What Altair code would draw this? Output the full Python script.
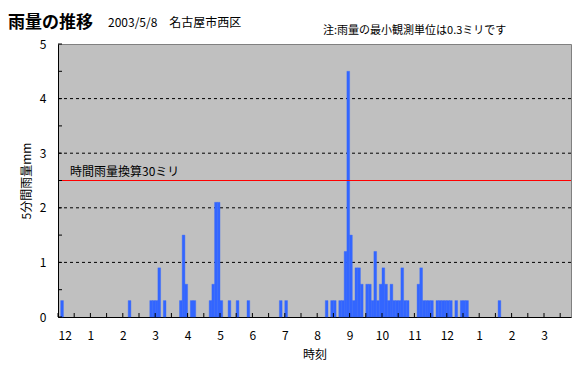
import altair as alt
import pandas as pd

# 5-minute slot index (minutes from midnight = slot * 5) and rainfall (mm)
SLOTS = [1, 26, 34, 35, 36, 37, 39, 45, 46, 47, 49, 50, 56, 57, 58, 59, 60, 63, 66, 70, 82, 84,
         99, 101, 102, 104, 105, 106, 107, 108, 109, 110, 111, 112, 114, 115, 116, 117, 118,
         119, 120, 121, 122, 123, 124, 125, 126, 127, 128, 129, 133, 134, 135, 136, 137, 138,
         140, 141, 142, 143, 144, 145, 147, 149, 150, 151, 163]
RAIN = [0.3, 0.3, 0.3, 0.3, 0.3, 0.9, 0.3, 0.3, 1.5, 0.6, 0.3, 0.3, 0.3, 0.6, 2.1, 2.1, 0.3, 0.3, 0.3, 0.3, 0.3, 0.3,
        0.3, 0.3, 0.3, 0.3, 0.3, 1.2, 4.5, 1.5, 0.3, 0.9, 0.9, 0.6, 0.6, 0.6, 0.3, 1.2, 0.3,
        0.6, 0.9, 0.6, 0.3, 0.6, 0.3, 0.3, 0.3, 0.9, 0.3, 0.3, 0.6, 0.9, 0.3, 0.3, 0.3, 0.3,
        0.3, 0.3, 0.3, 0.3, 0.3, 0.3, 0.3, 0.3, 0.3, 0.3, 0.3]

HOUR_LABELS = ["12", "1", "2", "3", "4", "5", "6", "7", "8", "9", "10", "11", "12", "1", "2", "3"]
HOUR_TICKS = [60 * i for i in range(len(HOUR_LABELS))]
MINOR_X_TICKS = [30 * i for i in range(32)]
Y_LABELS = [0, 1, 2, 3, 4, 5]
Y_MINOR = [0.5 * i for i in range(11)]
GRID_VALUES = [1, 2, 3, 4]
X_DOMAIN = [0, 950]
Y_DOMAIN = [0, 5]

THRESHOLD = 2.5
THRESHOLD_LABEL = "時間雨量換算30ミリ"
TITLE = "雨量の推移"
SUBTITLE = "2003/5/8　名古屋市西区"
NOTE = "注:雨量の最小観測単位は0.3ミリです"
X_TITLE = "時刻"
Y_TITLE = "5分間雨量mm"

FONT = "Noto Sans CJK JP"
W, H = 513, 273
BAR = "#3366ff"

df = pd.DataFrame({"start": [s * 5 for s in SLOTS], "rain": RAIN})
df["end"] = df["start"] + 5

label_expr = "[" + ",".join("'%s'" % l for l in HOUR_LABELS) + "][round(datum.value/60)]"

xscale = alt.Scale(domain=X_DOMAIN, nice=False, zero=False)
yscale = alt.Scale(domain=Y_DOMAIN, nice=False)

xaxis = alt.Axis(values=HOUR_TICKS, labelExpr=label_expr, title=X_TITLE, ticks=False, grid=False,
                 domainColor="black", labelFontSize=12, labelPadding=13, titleFontSize=12,
                 titlePadding=8, labelFont=FONT, titleFont=FONT, labelColor="black",
                 titleColor="black", titleFontWeight="normal")
yaxis = alt.Axis(values=Y_LABELS, title=Y_TITLE, ticks=False, grid=False, domainColor="black",
                 labelFontSize=12, labelPadding=12, titleFontSize=12, titlePadding=6,
                 labelFont=FONT, titleFont=FONT, labelColor="black", titleColor="black",
                 titleFontWeight="normal")

grid = alt.Chart(pd.DataFrame({"rain": GRID_VALUES})).mark_rule(
    color="black", strokeDash=[3, 3], strokeWidth=1
).encode(y=alt.Y("rain:Q", scale=yscale, axis=yaxis))

bars = alt.Chart(df).mark_rect(color=BAR, stroke=BAR, strokeWidth=0.4).encode(
    x=alt.X("start:Q", scale=xscale, axis=xaxis),
    x2="end:Q",
    y=alt.Y("rain:Q", scale=yscale, axis=yaxis),
    y2=alt.datum(0),
)

red = alt.Chart(pd.DataFrame({"rain": [THRESHOLD]})).mark_rule(color="red", strokeWidth=1).encode(
    y=alt.Y("rain:Q", scale=yscale, axis=yaxis)
)
red_label = alt.Chart(pd.DataFrame({"rain": [THRESHOLD], "t": [THRESHOLD_LABEL]})).mark_text(
    align="left", baseline="alphabetic", dy=-5, fontSize=12, font=FONT, color="black"
).encode(y=alt.Y("rain:Q", scale=yscale, axis=yaxis), x=alt.value(12), text="t:N")

xticks = alt.Chart(pd.DataFrame({"start": MINOR_X_TICKS})).mark_rule(color="black").encode(
    x=alt.X("start:Q", scale=xscale, axis=xaxis), y=alt.value(H), y2=alt.value(H - 4)
)
yticks = alt.Chart(pd.DataFrame({"rain": Y_MINOR})).mark_rule(color="black").encode(
    y=alt.Y("rain:Q", scale=yscale, axis=yaxis), x=alt.value(0), x2=alt.value(4)
)

title = alt.Chart(pd.DataFrame({"t": [TITLE]})).mark_text(
    align="left", baseline="alphabetic", fontSize=17, fontWeight="bold", font=FONT, color="black"
).encode(x=alt.value(-50), y=alt.value(-16), text="t:N")
subtitle = alt.Chart(pd.DataFrame({"t": [SUBTITLE]})).mark_text(
    align="left", baseline="alphabetic", fontSize=12, font=FONT, color="black"
).encode(x=alt.value(50), y=alt.value(-17), text="t:N")
note = alt.Chart(pd.DataFrame({"t": [NOTE]})).mark_text(
    align="left", baseline="alphabetic", fontSize=11, font=FONT, color="black"
).encode(x=alt.value(265), y=alt.value(-10), text="t:N")

chart = alt.layer(grid, bars, red, red_label, xticks, yticks, title, subtitle, note).properties(
    width=W, height=H,
    padding={"left": 50, "top": 36, "right": 6, "bottom": 58},
    autosize=alt.AutoSizeParams(type="none"),
    background="white",
).configure_view(fill="#c0c0c0", stroke="#808080", strokeWidth=1)

chart.save("out.html", embed_options={"renderer": "svg", "actions": False})
